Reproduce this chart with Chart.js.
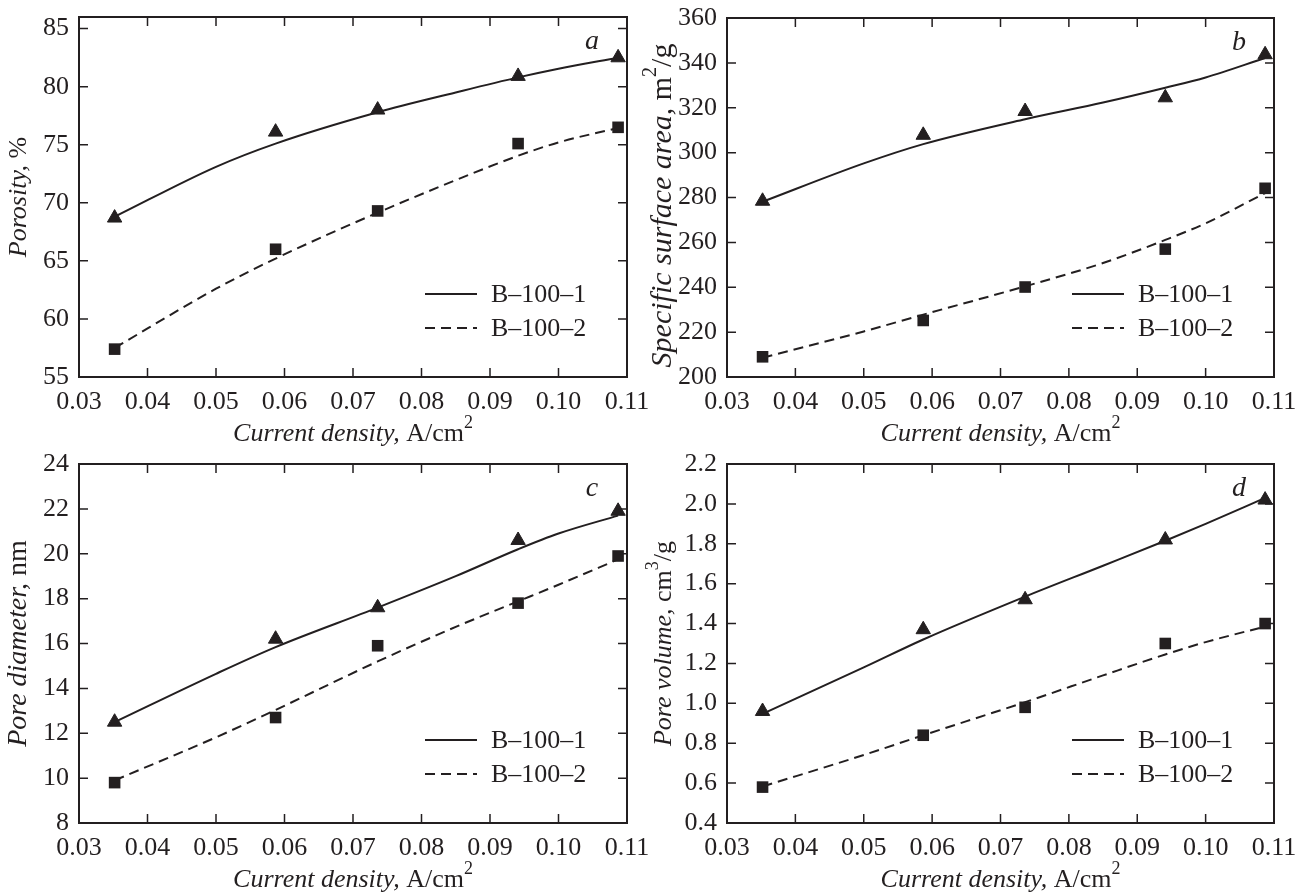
<!DOCTYPE html>
<html>
<head>
<meta charset="utf-8">
<script src="https://cdn.jsdelivr.net/npm/chart.js@4.4.1/dist/chart.umd.min.js"></script>
<style>
    html, body { margin: 0; padding: 0; background: #fff; }
    #wrap { position: relative; width: 1310px; height: 896px; }
    .panel { position: absolute; height: 448px; }
</style>
</head>
<body>
<div id="wrap">
    <div class="panel" style="left:0;top:0;width:655px"><canvas id="chartA" width="655" height="448"></canvas></div>
    <div class="panel" style="left:630px;top:0;width:680px"><canvas id="chartB" width="680" height="448"></canvas></div>
    <div class="panel" style="left:0;top:448px;width:655px"><canvas id="chartC" width="655" height="448"></canvas></div>
    <div class="panel" style="left:630px;top:448px;width:680px"><canvas id="chartD" width="680" height="448"></canvas></div>
</div>
<script>
// Current density (A/cm2) of the measured samples
const pointX = [0.0352, 0.0587, 0.0736, 0.0941, 0.1087];
const curveX = [0.0352, 0.05, 0.0587, 0.0736, 0.085, 0.0941, 0.1, 0.1087];

const seriesNames = ['B–100–1', 'B–100–2'];

// a - porosity, %
const porosity1 = [68.7, 76.1, 78.0, 80.9, 82.5];
const porosity2 = [57.4, 66.0, 69.3, 75.1, 76.5];
const porosityFit1 = [68.8, 73.1, 75.1, 77.8, 79.5, 80.8, 81.55, 82.5];
const porosityFit2 = [57.5, 62.6, 65.2, 69.15, 71.95, 74.05, 75.2, 76.45];

// b - specific surface area, m2/g
const surface1 = [278.4, 307.8, 318.4, 324.5, 343.7];
const surface2 = [209.0, 225.2, 240.1, 257.0, 284.1];
const surfaceFit1 = [278.1, 295.2, 303.8, 314.9, 322.3, 328.9, 333.5, 342.2];
const surfaceFit2 = [208.6, 220.3, 227.8, 240.4, 250.8, 261.1, 268.5, 282.0];

// c - pore diameter, nm
const diameter1 = [12.5, 16.2, 17.6, 20.6, 21.9];
const diameter2 = [9.8, 12.7, 15.9, 17.8, 19.9];
const diameterFit1 = [12.5, 14.65, 15.84, 17.6, 19.0, 20.2, 20.9, 21.7];
const diameterFit2 = [9.9, 11.82, 13.04, 15.2, 16.74, 17.88, 18.62, 19.75];

// d - pore volume, cm3/g
const volume1 = [0.96, 1.37, 1.52, 1.82, 2.02];
const volume2 = [0.58, 0.84, 0.98, 1.30, 1.40];
const volumeFit1 = [0.947, 1.18, 1.32, 1.535, 1.69, 1.815, 1.90, 2.03];
const volumeFit2 = [0.583, 0.741, 0.84, 1.006, 1.14, 1.245, 1.307, 1.385];

// tick labels
const xTicks = [0.03, 0.04, 0.05, 0.06, 0.07, 0.08, 0.09, 0.10, 0.11];
const porosityTicks = [55, 60, 65, 70, 75, 80, 85];
const surfaceTicks = [200, 220, 240, 260, 280, 300, 320, 340, 360];
const diameterTicks = [8, 10, 12, 14, 16, 18, 20, 22, 24];
const volumeTicks = [0.4, 0.6, 0.8, 1.0, 1.2, 1.4, 1.6, 1.8, 2.0, 2.2];

const ink = '#231f20';
const serif = '"Liberation Serif", "Times New Roman", serif';
const tickLen = 9;

function pts(xs, ys) {
    return xs.map((x, i) => ({ x: x, y: ys[i] }));
}

function partFont(p, size) {
    return (p.i ? 'italic ' : '') + (p.sup ? Math.round(size * 0.68) : size) + 'px ' + serif;
}

// draws a text made of italic / upright / superscript parts, centred on (x, y)
function drawParts(ctx, parts, x, y, size) {
    let total = 0;
    const widths = parts.map(p => {
        ctx.font = partFont(p, size);
        const w = ctx.measureText(p.t).width;
        total += w;
        return w;
    });
    let cx = x - total / 2;
    ctx.textAlign = 'left';
    ctx.textBaseline = 'middle';
    parts.forEach((p, i) => {
        ctx.font = partFont(p, size);
        ctx.fillText(p.t, cx, p.sup ? y - size * 0.4 : y);
        cx += widths[i];
    });
}

const xTitle = [{ t: 'Current density,', i: true }, { t: ' A/cm' }, { t: '2', sup: true }];

const framePlugin = {
    id: 'frame',
    afterDatasetsDraw(chart, args, opts) {
        const ctx = chart.ctx;
        const a = chart.chartArea;
        const xs = chart.scales.x;
        const ys = chart.scales.y;
        ctx.save();
        ctx.strokeStyle = ink;
        ctx.fillStyle = ink;

        // inward ticks on all four sides
        ctx.lineWidth = 1.5;
        ctx.beginPath();
        xs.ticks.forEach(t => {
            const px = xs.getPixelForValue(t.value);
            ctx.moveTo(px, a.bottom); ctx.lineTo(px, a.bottom - tickLen);
            ctx.moveTo(px, a.top); ctx.lineTo(px, a.top + tickLen);
        });
        ys.ticks.forEach(t => {
            const py = ys.getPixelForValue(t.value);
            ctx.moveTo(a.left, py); ctx.lineTo(a.left + tickLen, py);
            ctx.moveTo(a.right, py); ctx.lineTo(a.right - tickLen, py);
        });
        ctx.stroke();

        // box
        ctx.lineWidth = 2;
        ctx.strokeRect(a.left, a.top, a.right - a.left, a.bottom - a.top);

        // axis titles
        drawParts(ctx, xTitle, (a.left + a.right) / 2, a.bottom + 57, 26);
        ctx.save();
        ctx.translate(a.left - opts.titleGap, (a.top + a.bottom) / 2 + (opts.titleShift || 0));
        ctx.rotate(-Math.PI / 2);
        drawParts(ctx, opts.yTitle, 0, 0, opts.titleSize || 26);
        ctx.restore();

        // panel letter
        ctx.font = 'italic 28px ' + serif;
        ctx.textAlign = 'center';
        ctx.textBaseline = 'middle';
        ctx.fillText(opts.letter, a.right - 35, a.top + 25);

        // legend (lines only, bottom right inside the box)
        const lines = chart.data.datasets.filter(d => d.showLine);
        lines.forEach((d, i) => {
            const ly = a.bottom - 83 + i * 34;
            ctx.lineWidth = 2;
            ctx.setLineDash(d.borderDash || []);
            ctx.beginPath();
            ctx.moveTo(a.right - 202, ly);
            ctx.lineTo(a.right - 150, ly);
            ctx.stroke();
            ctx.setLineDash([]);
            ctx.font = '26px ' + serif;
            ctx.textAlign = 'left';
            ctx.fillText(d.label, a.right - 136, ly + 1);
        });
        ctx.restore();
    }
};

function makePanel(id, p) {
    const canvas = document.getElementById(id);
    if (!canvas) return;
    new Chart(canvas, {
        type: 'scatter',
        data: {
            datasets: [{
                label: seriesNames[0],
                data: pts(pointX, p.v1),
                pointStyle: 'triangle',
                pointRadius: 8.3,
                pointBackgroundColor: ink,
                pointBorderColor: ink,
                pointBorderWidth: 1
            }, {
                label: seriesNames[1],
                data: pts(pointX, p.v2),
                pointStyle: 'rect',
                pointRadius: 8.2,
                pointBackgroundColor: ink,
                pointBorderColor: ink,
                pointBorderWidth: 0
            }, {
                label: seriesNames[0],
                data: pts(curveX, p.f1),
                showLine: true,
                pointRadius: 0,
                borderColor: ink,
                borderWidth: 2,
                cubicInterpolationMode: 'monotone'
            }, {
                label: seriesNames[1],
                data: pts(curveX, p.f2),
                showLine: true,
                pointRadius: 0,
                borderColor: ink,
                borderWidth: 2,
                borderDash: [10, 6],
                cubicInterpolationMode: 'monotone'
            }]
        },
        options: {
            responsive: false,
            animation: false,
            layout: { padding: { top: p.top, right: p.right, left: 0, bottom: 0 } },
            plugins: {
                legend: { display: false },
                tooltip: { enabled: false },
                frame: {
                    letter: p.letter, yTitle: p.yTitle, titleSize: p.titleSize,
                    titleShift: p.titleShift, titleGap: p.titleGap
                }
            },
            scales: {
                x: {
                    type: 'linear',
                    min: 0.03,
                    max: 0.11,
                    grid: { display: false, drawTicks: false },
                    border: { display: false },
                    afterBuildTicks: s => { s.ticks = xTicks.map(v => ({ value: v })); },
                    afterFit: s => {
                        s.height = p.xH;
                        s.paddingLeft = 0;
                        s.paddingRight = 0;
                    },
                    ticks: {
                        color: ink,
                        padding: 10,
                        maxRotation: 0,
                        autoSkip: false,
                        font: { family: serif, size: 26 },
                        callback: v => v.toFixed(2)
                    }
                },
                y: {
                    min: p.min,
                    max: p.max,
                    grid: { display: false, drawTicks: false },
                    border: { display: false },
                    afterBuildTicks: s => { s.ticks = p.ticks.map(v => ({ value: v })); },
                    afterFit: s => {
                        s.width = p.yW;
                        s.paddingTop = 0;
                        s.paddingBottom = 0;
                    },
                    ticks: {
                        color: ink,
                        padding: 10,
                        autoSkip: false,
                        font: { family: serif, size: 26 },
                        callback: v => p.digits ? v.toFixed(p.digits) : v
                    }
                }
            }
        },
        plugins: [framePlugin]
    });
}

makePanel('chartA', {
    v1: porosity1, v2: porosity2, f1: porosityFit1, f2: porosityFit2,
    min: 55, max: 86, ticks: porosityTicks, letter: 'a',
    yTitle: [{ t: 'Porosity,', i: true }, { t: ' %' }],
    titleGap: 60,
    top: 17, right: 28, yW: 79, xH: 71
});

makePanel('chartB', {
    v1: surface1, v2: surface2, f1: surfaceFit1, f2: surfaceFit2,
    min: 200, max: 360, ticks: surfaceTicks, letter: 'b',
    yTitle: [{ t: 'Specific surface area,', i: true }, { t: ' m' }, { t: '2', sup: true }, { t: '/g' }],
    titleSize: 30, titleShift: 8, titleGap: 64,
    top: 18, right: 36, yW: 97, xH: 71
});

makePanel('chartC', {
    v1: diameter1, v2: diameter2, f1: diameterFit1, f2: diameterFit2,
    min: 8, max: 24, ticks: diameterTicks, letter: 'c',
    yTitle: [{ t: 'Pore diameter,', i: true }, { t: ' nm' }],
    titleSize: 28, titleGap: 60,
    top: 16, right: 28, yW: 79, xH: 73
});

makePanel('chartD', {
    v1: volume1, v2: volume2, f1: volumeFit1, f2: volumeFit2,
    min: 0.4, max: 2.2, ticks: volumeTicks, letter: 'd', digits: 1,
    yTitle: [{ t: 'Pore volume,', i: true }, { t: ' cm' }, { t: '3', sup: true }, { t: '/g' }],
    titleGap: 63,
    top: 16, right: 36, yW: 97, xH: 73
});
</script>
</body>
</html>
